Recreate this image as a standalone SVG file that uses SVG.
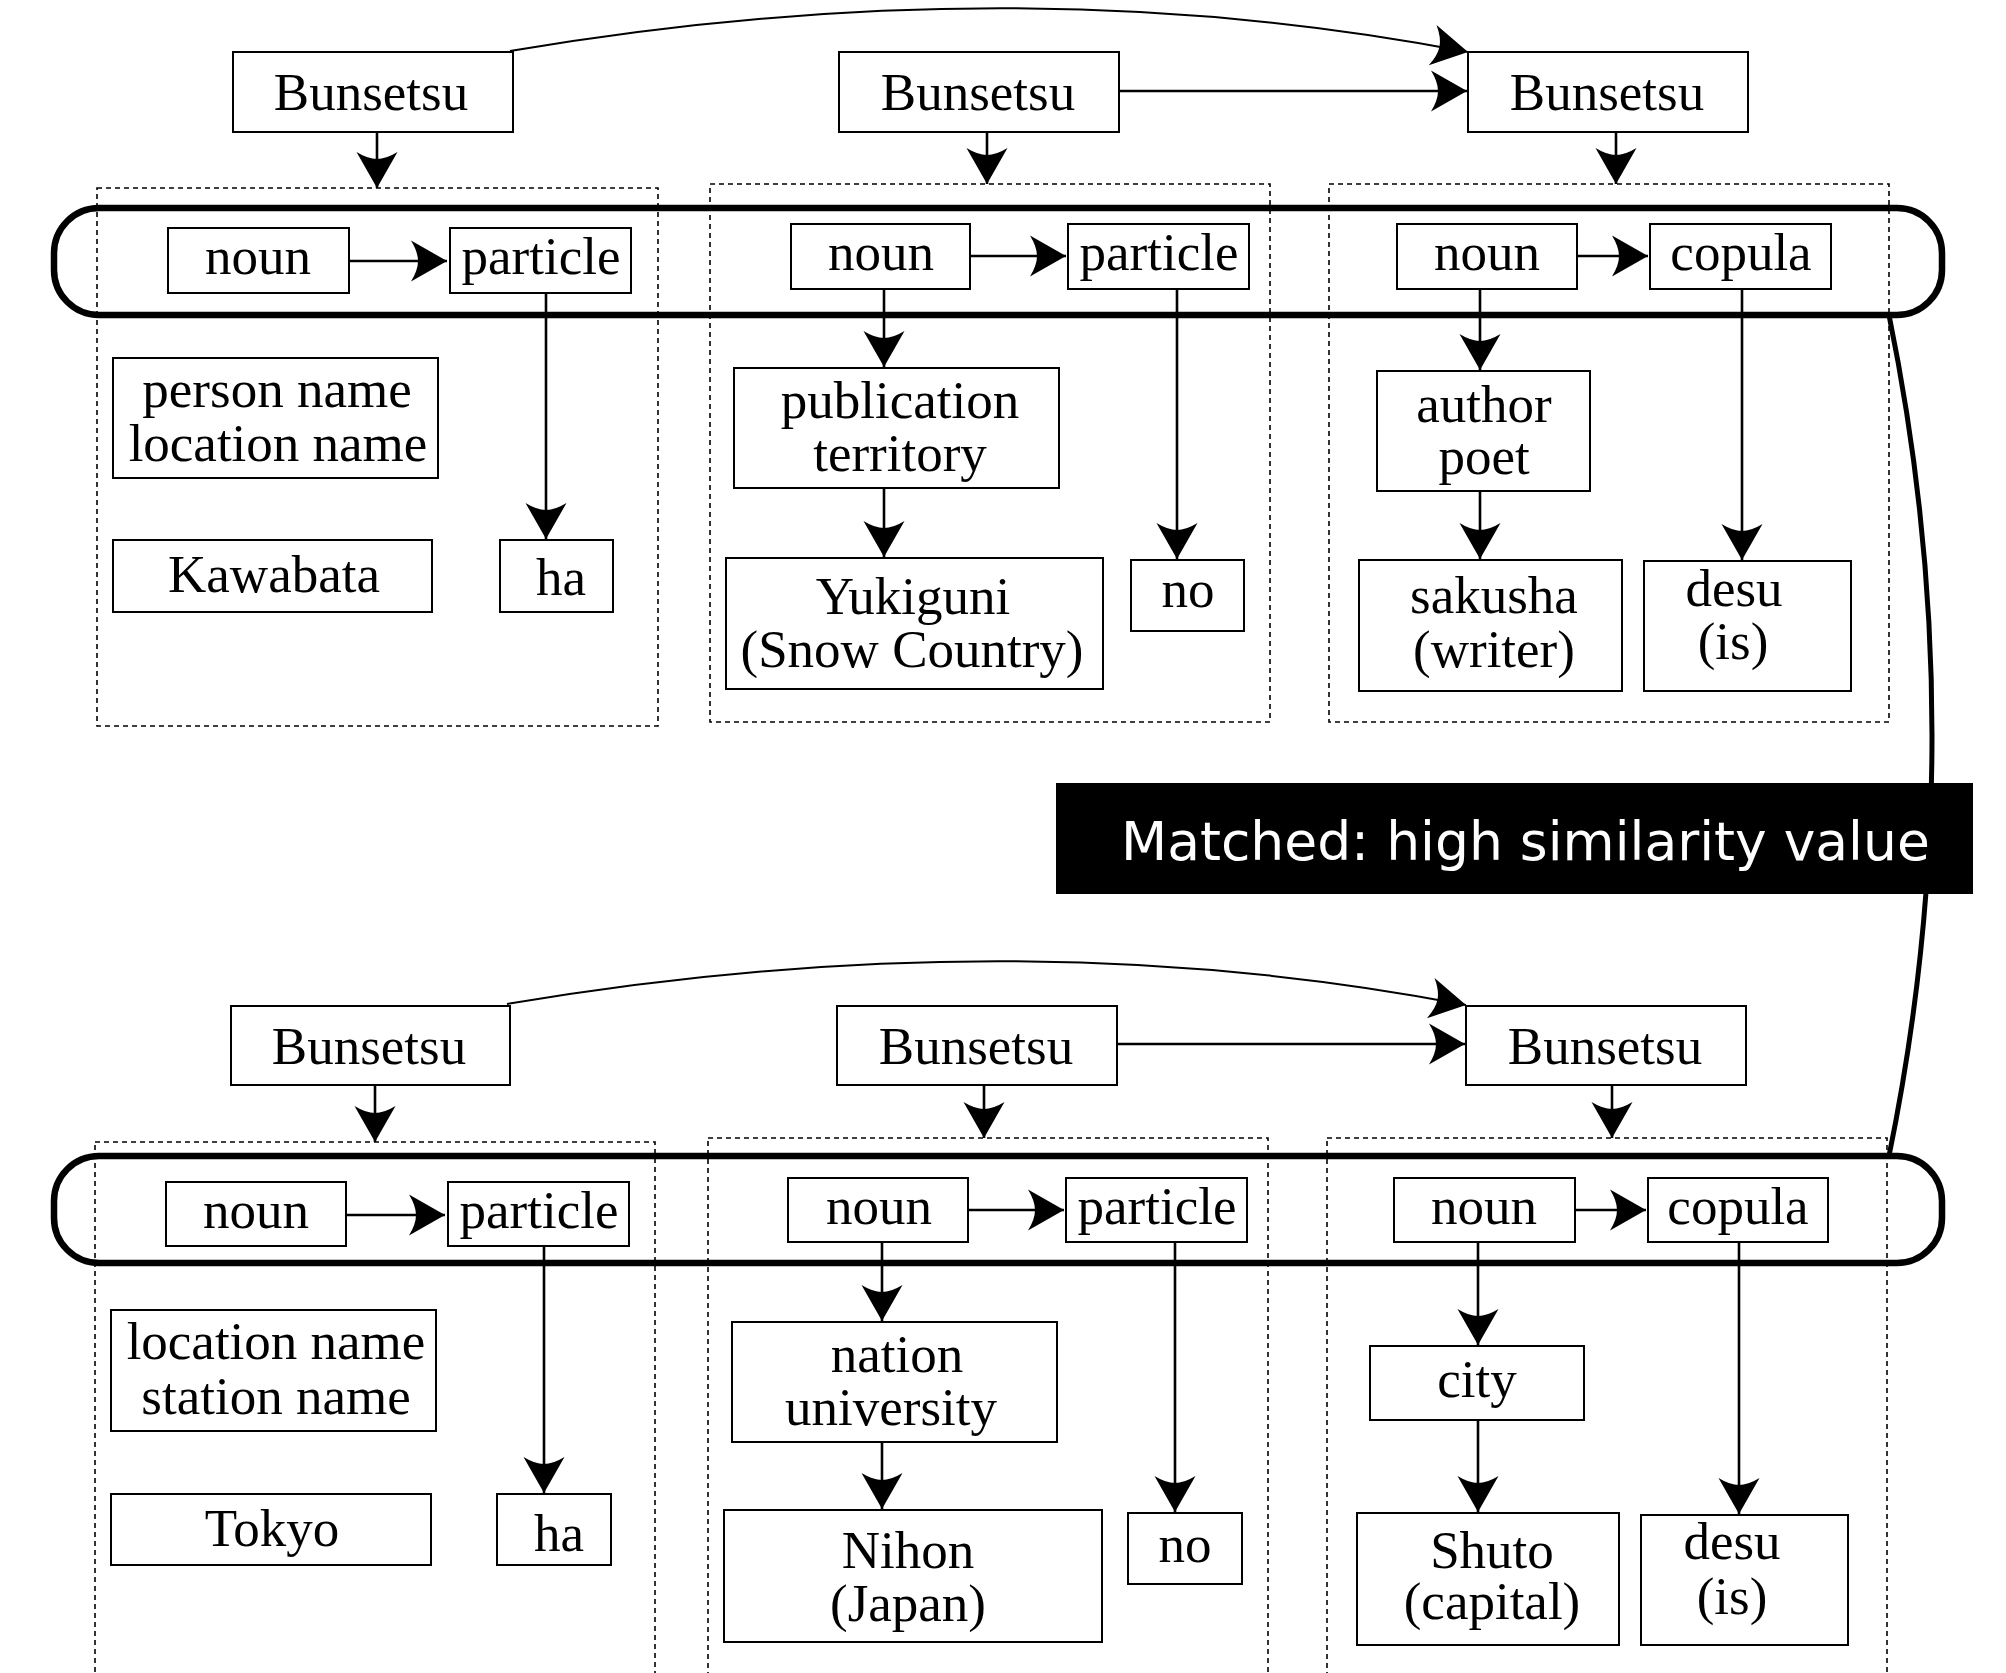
<svg xmlns="http://www.w3.org/2000/svg" width="2006" height="1673" viewBox="0 0 2006 1673">
<style>
.box{fill:#fff;stroke:#000;stroke-width:2}
.dot{fill:none;stroke:#000;stroke-width:1.6;stroke-dasharray:5 4}
.pill{fill:none;stroke:#000;stroke-width:6.5}
.t{font-family:"Liberation Serif","Times New Roman",serif;font-size:53px;fill:#000;text-anchor:middle}
.ca{fill:none;stroke:#000;stroke-width:2.6;marker-end:url(#ah)}
.thin{fill:none;stroke:#000;stroke-width:2;marker-end:url(#ah)}
.lbl{font-family:"DejaVu Sans",Verdana,sans-serif;font-size:53.5px;fill:#fff}
</style>
<defs>
<marker id="ah" markerUnits="userSpaceOnUse" viewBox="-40 -22 42 44" refX="0" refY="0" markerWidth="42" markerHeight="44" orient="auto" overflow="visible">
<path d="M0,0 L-36,-20.5 Q-29,-9 -29,0 Q-29,9 -36,20.5 Z" fill="#000"/>
</marker>
</defs>
<rect width="2006" height="1673" fill="#fff"/>

<g id="groups">
<rect class="dot" x="97" y="188" width="561" height="538"/>
<rect class="dot" x="710" y="184" width="560" height="538"/>
<rect class="dot" x="1329" y="184" width="560" height="538"/>
<rect class="dot" x="95" y="1142" width="560" height="560"/>
<rect class="dot" x="708" y="1138" width="560" height="560"/>
<rect class="dot" x="1327" y="1138" width="560" height="560"/>
</g>

<g id="connectors">
<path class="thin" d="M510,51 Q1017,-35 1468,52"/>
<path class="ca" d="M1119,91 L1467,91"/>
<path class="ca" d="M377,132 L377,188"/>
<path class="ca" d="M987,132 L987,184"/>
<path class="ca" d="M1616,132 L1616,184"/>
<path class="ca" d="M349,261 L447,261"/>
<path class="ca" d="M546,293 L546,539"/>
<path class="ca" d="M970,256 L1066,256"/>
<path class="ca" d="M884,289 L884,367"/>
<path class="ca" d="M884,488 L884,557"/>
<path class="ca" d="M1177,289 L1177,559"/>
<path class="ca" d="M1577,256 L1648,256"/>
<path class="ca" d="M1480,289 L1480,370"/>
<path class="ca" d="M1480,491 L1480,559"/>
<path class="ca" d="M1742,289 L1742,560"/>
<path class="thin" d="M507,1004 Q1015,918 1466,1005"/>
<path class="ca" d="M1117,1044 L1465,1044"/>
<path class="ca" d="M375,1085 L375,1142"/>
<path class="ca" d="M984,1085 L984,1138"/>
<path class="ca" d="M1612,1085 L1612,1138"/>
<path class="ca" d="M346,1215 L445,1215"/>
<path class="ca" d="M544,1246 L544,1493"/>
<path class="ca" d="M968,1210 L1064,1210"/>
<path class="ca" d="M882,1242 L882,1321"/>
<path class="ca" d="M882,1442 L882,1509"/>
<path class="ca" d="M1175,1242 L1175,1512"/>
<path class="ca" d="M1575,1210 L1646,1210"/>
<path class="ca" d="M1478,1242 L1478,1345"/>
<path class="ca" d="M1478,1420 L1478,1512"/>
<path class="ca" d="M1739,1242 L1739,1514"/>
<path d="M1889,315 Q1975,735.5 1889,1156" fill="none" stroke="#000" stroke-width="5"/>
</g>

<g id="match-top"><rect class="pill" x="54" y="208" width="1888" height="107" rx="45" ry="45"/></g>
<g id="match-bottom"><rect class="pill" x="54" y="1156" width="1888" height="107" rx="45" ry="45"/></g>

<g id="bunsetsu1"><rect class="box" x="233" y="52" width="280" height="80"/><text class="t" x="371" y="110">Bunsetsu</text></g>
<g id="bunsetsu2"><rect class="box" x="839" y="52" width="280" height="80"/><text class="t" x="978" y="110">Bunsetsu</text></g>
<g id="bunsetsu3"><rect class="box" x="1468" y="52" width="280" height="80"/><text class="t" x="1607" y="110">Bunsetsu</text></g>

<g id="noun1"><rect class="box" x="168" y="228" width="181" height="65"/><text class="t" x="258" y="274">noun</text></g>
<g id="particle1"><rect class="box" x="450" y="228" width="181" height="65"/><text class="t" x="541" y="274">particle</text></g>
<g id="personname"><rect class="box" x="113" y="358" width="325" height="120"/><text class="t" x="277" y="407">person name</text><text class="t" x="278" y="461">location name</text></g>
<g id="kawabata"><rect class="box" x="113" y="540" width="319" height="72"/><text class="t" x="274" y="592">Kawabata</text></g>
<g id="ha1"><rect class="box" x="500" y="540" width="113" height="72"/><text class="t" x="561" y="595">ha</text></g>

<g id="noun2"><rect class="box" x="791" y="224" width="179" height="65"/><text class="t" x="881" y="270">noun</text></g>
<g id="particle2"><rect class="box" x="1068" y="224" width="181" height="65"/><text class="t" x="1159" y="270">particle</text></g>
<g id="publication"><rect class="box" x="734" y="368" width="325" height="120"/><text class="t" x="900" y="418">publication</text><text class="t" x="900" y="471">territory</text></g>
<g id="yukiguni"><rect class="box" x="726" y="558" width="377" height="131"/><text class="t" x="913" y="614">Yukiguni</text><text class="t" x="912" y="667">(Snow Country)</text></g>
<g id="no1"><rect class="box" x="1131" y="560" width="113" height="71"/><text class="t" x="1188" y="607">no</text></g>

<g id="noun3"><rect class="box" x="1397" y="224" width="180" height="65"/><text class="t" x="1487" y="270">noun</text></g>
<g id="copula1"><rect class="box" x="1650" y="224" width="181" height="65"/><text class="t" x="1741" y="270">copula</text></g>
<g id="author"><rect class="box" x="1377" y="371" width="213" height="120"/><text class="t" x="1484" y="422">author</text><text class="t" x="1484" y="474">poet</text></g>
<g id="sakusha"><rect class="box" x="1359" y="560" width="263" height="131"/><text class="t" x="1494" y="613">sakusha</text><text class="t" x="1494" y="667">(writer)</text></g>
<g id="desu1"><rect class="box" x="1644" y="561" width="207" height="130"/><text class="t" x="1734" y="606">desu</text><text class="t" x="1733" y="659">(is)</text></g>

<g id="label"><rect x="1056" y="783" width="917" height="111" fill="#000"/><text class="lbl" x="1121" y="860">Matched: high similarity value</text></g>

<g id="bunsetsu4"><rect class="box" x="231" y="1006" width="279" height="79"/><text class="t" x="369" y="1064">Bunsetsu</text></g>
<g id="bunsetsu5"><rect class="box" x="837" y="1006" width="280" height="79"/><text class="t" x="976" y="1064">Bunsetsu</text></g>
<g id="bunsetsu6"><rect class="box" x="1466" y="1006" width="280" height="79"/><text class="t" x="1605" y="1064">Bunsetsu</text></g>

<g id="noun4"><rect class="box" x="166" y="1182" width="180" height="64"/><text class="t" x="256" y="1228">noun</text></g>
<g id="particle4"><rect class="box" x="448" y="1182" width="181" height="64"/><text class="t" x="539" y="1228">particle</text></g>
<g id="locationname"><rect class="box" x="111" y="1310" width="325" height="121"/><text class="t" x="276" y="1359">location name</text><text class="t" x="276" y="1414">station name</text></g>
<g id="tokyo"><rect class="box" x="111" y="1494" width="320" height="71"/><text class="t" x="272" y="1546">Tokyo</text></g>
<g id="ha2"><rect class="box" x="497" y="1494" width="114" height="71"/><text class="t" x="559" y="1551">ha</text></g>

<g id="noun5"><rect class="box" x="788" y="1178" width="180" height="64"/><text class="t" x="879" y="1224">noun</text></g>
<g id="particle5"><rect class="box" x="1066" y="1178" width="181" height="64"/><text class="t" x="1157" y="1224">particle</text></g>
<g id="nation"><rect class="box" x="732" y="1322" width="325" height="120"/><text class="t" x="897" y="1372">nation</text><text class="t" x="891" y="1425">university</text></g>
<g id="nihon"><rect class="box" x="724" y="1510" width="378" height="132"/><text class="t" x="908" y="1568">Nihon</text><text class="t" x="908" y="1621">(Japan)</text></g>
<g id="no2"><rect class="box" x="1128" y="1513" width="114" height="71"/><text class="t" x="1185" y="1562">no</text></g>

<g id="noun6"><rect class="box" x="1394" y="1178" width="181" height="64"/><text class="t" x="1484" y="1224">noun</text></g>
<g id="copula2"><rect class="box" x="1648" y="1178" width="180" height="64"/><text class="t" x="1738" y="1224">copula</text></g>
<g id="city"><rect class="box" x="1370" y="1346" width="214" height="74"/><text class="t" x="1477" y="1397">city</text></g>
<g id="shuto"><rect class="box" x="1357" y="1513" width="262" height="132"/><text class="t" x="1492" y="1568">Shuto</text><text class="t" x="1492" y="1619">(capital)</text></g>
<g id="desu2"><rect class="box" x="1641" y="1515" width="207" height="130"/><text class="t" x="1732" y="1559">desu</text><text class="t" x="1732" y="1614">(is)</text></g>
</svg>
